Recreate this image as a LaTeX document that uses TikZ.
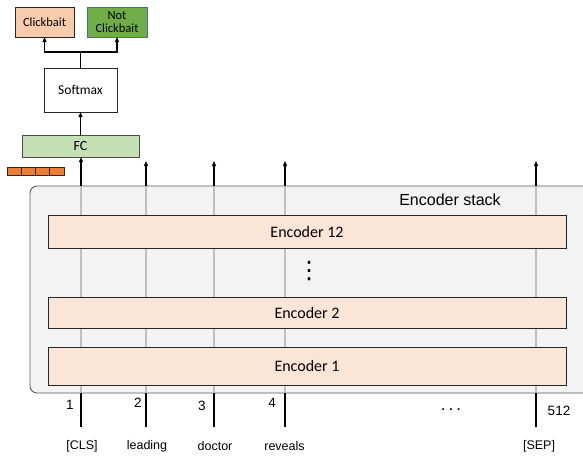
\documentclass[tikz,border=0pt]{standalone}
\usepackage{fontspec}
\setmainfont{Carlito}
\newfontfamily\arialf{Liberation Sans}
\newfontfamily\dejavu{DejaVu Sans}
\usetikzlibrary{arrows.meta}
\definecolor{cbfill}{HTML}{F8CBAD}
\definecolor{ncbfill}{HTML}{70AD47}
\definecolor{ncbdraw}{HTML}{41719C}
\definecolor{fcfill}{HTML}{C5E0B4}
\definecolor{encfill}{HTML}{FBE5D6}
\definecolor{outfill}{HTML}{F3F3F3}
\definecolor{outdraw}{HTML}{595959}
\definecolor{gridgrey}{HTML}{BFBFBF}
\definecolor{cellfill}{HTML}{ED7D31}
\tikzset{
  box/.style={draw=black!85, line width=0.7pt, inner sep=0pt, outer sep=0pt, align=center},
  encbox/.style={box, fill=encfill, minimum width=518pt, font=\fontsize{16}{18}\selectfont},
  arr/.style={line width=1.1pt, -{Triangle[length=5pt,width=4pt]}},
  conn/.style={line width=1.1pt},
  greyline/.style={draw=gridgrey, line width=1.2pt},
  numlab/.style={font=\arialf\fontsize{13.5}{15}\selectfont, inner sep=0pt},
  toklab/.style={font=\arialf\fontsize{12.5}{14}\selectfont, inner sep=0pt},
  cell/.style={draw=black!85, fill=cellfill, line width=0.6pt}
}
\begin{document}
\begin{tikzpicture}[x=1pt,y=-1pt]
\path[use as bounding box] (0,0) rectangle (583,458);

% outer encoder stack box (open to the right, continues beyond the edge)
\begin{scope}
\clip (0,0) rectangle (583,458);
\fill[outfill, rounded corners=7pt] (30,186) rectangle (600,393);
\draw[draw=outdraw, line width=0.9pt, rounded corners=7pt] (600,186) -- (30,186) -- (30,393) -- (600,393);
\end{scope}
\node[font=\arialf\fontsize{16}{18}\selectfont, inner sep=0pt] (stack) at (450,200) {Encoder stack};

% token columns
\foreach \n/\x in {1/81,2/146,3/214,4/285,5/536}{
  \coordinate (top\n) at (\x,186);
  \coordinate (bot\n) at (\x,393);
  \coordinate (end\n) at (\x,427);
  \coordinate (tip\n) at (\x,161);
  \draw[greyline] (bot\n) -- (top\n);
  \draw[conn] (end\n) -- (bot\n);
}

% encoders
\node[encbox, minimum height=33pt] (e12) at (307,231.5) {Encoder 12};
\node[encbox, minimum height=31pt] (e2) at (307,312.5) {Encoder 2};
\node[encbox, minimum height=38pt] (e1) at (307,366) {Encoder 1};
\node[font=\dejavu\fontsize{24}{24}\selectfont, inner sep=0pt] (vd) at (309,271) {⋮};

% upper stack
\node[box, fill=fcfill, draw=black!70, minimum width=117pt, minimum height=22pt, font=\fontsize{14}{16}\selectfont] (fc) at (80.5,146) {FC};
\node[box, fill=white, minimum width=73pt, minimum height=44pt, font=\fontsize{13.5}{16}\selectfont] (sm) at (80.5,90) {Softmax};
\node[box, fill=cbfill, minimum width=59pt, minimum height=30pt, font=\fontsize{12.5}{13}\selectfont] (cb) at (44.5,22) {Clickbait};
\node[box, fill=ncbfill, draw=ncbdraw, minimum width=60pt, minimum height=30pt, font=\fontsize{12.5}{13}\selectfont] (ncb) at (117,22) {Not\\Clickbait};

% arrows
\draw[arr] (top1) -- (top1 |- fc.south);
\foreach \n in {2,3,4,5}{ \draw[arr] (top\n) -- (tip\n); }
\draw[arr] (fc.north) -- (sm.south);
\draw[conn] (sm.north) -- ++(0,-16) coordinate (br);
\draw[arr] (br) -| (cb.south);
\draw[arr] (br) -| (ncb.south);

% orange vector
\foreach \i in {0,1,2,3}{
  \draw[cell] (7+14.25*\i,167) rectangle (7+14.25*\i+14.25,175);
}

% position numbers
\node[numlab] (n1) at (70,405) {1};
\node[numlab] (n2) at (138,403) {2};
\node[numlab] (n3) at (202,406) {3};
\node[numlab] (n4) at (272,403) {4};
\node[numlab] (n512) at (559,411) {512};
\node[font=\arialf\fontsize{17}{17}\selectfont, inner sep=0pt] (ndots) at (451,410) {.\hspace{3pt}.\hspace{3pt}.};

% tokens
\node[toklab] (w1) at (82,446) {[CLS]};
\node[toklab] (w2) at (147,446) {leading};
\node[toklab] (w3) at (215,446) {doctor};
\node[toklab] (w4) at (284.5,446) {reveals};
\node[toklab] (w5) at (539,446) {[SEP]};
\end{tikzpicture}
\end{document}
